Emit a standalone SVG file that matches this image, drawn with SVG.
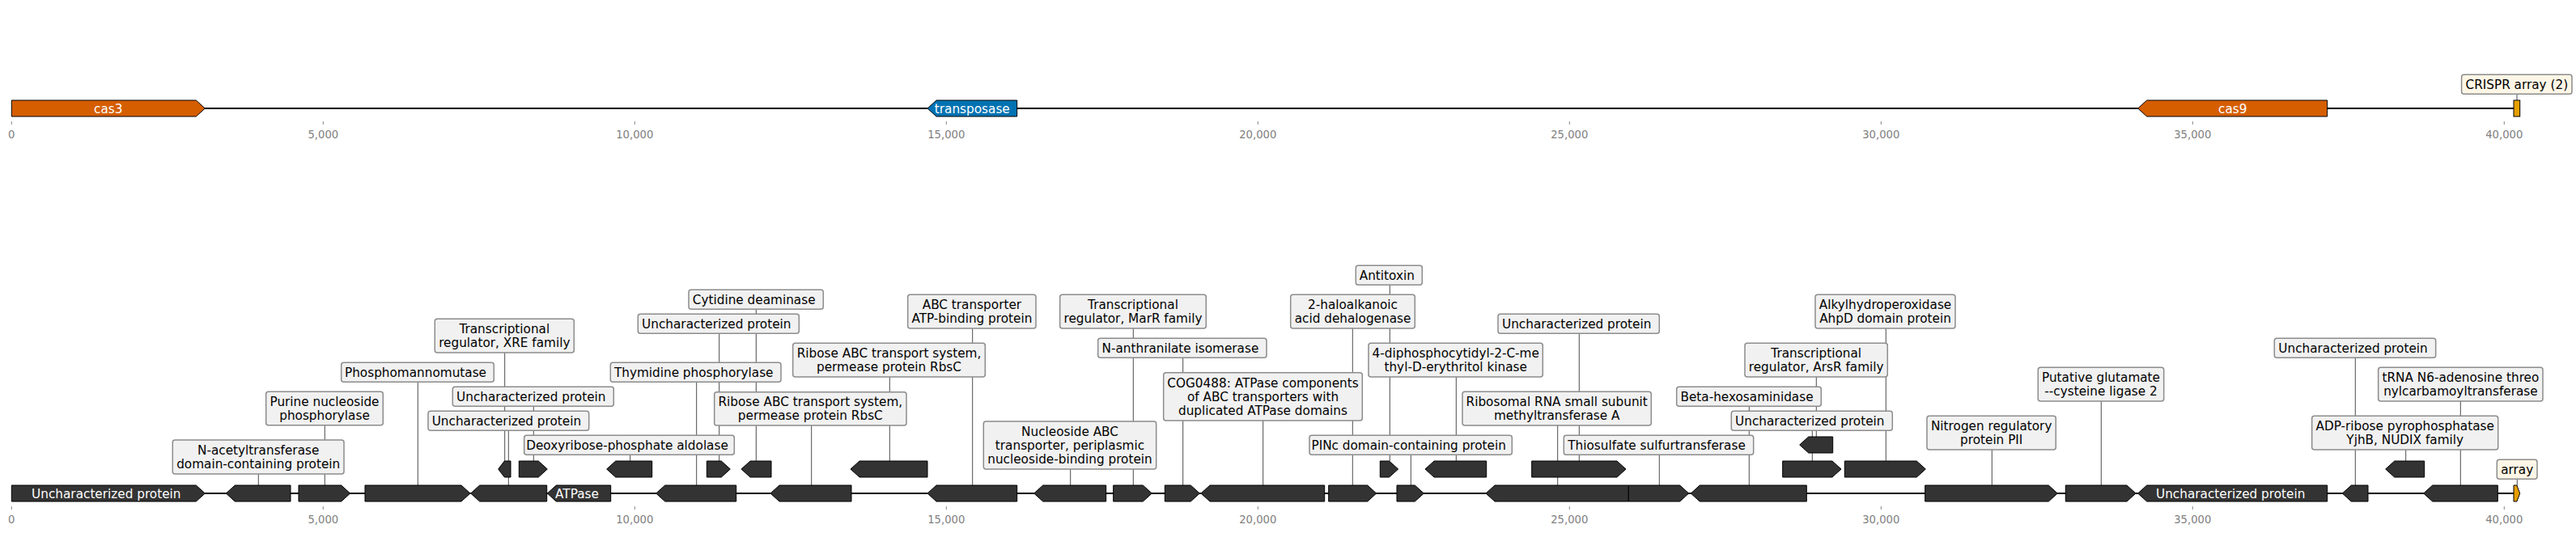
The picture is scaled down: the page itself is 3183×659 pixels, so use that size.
<svg xmlns="http://www.w3.org/2000/svg" width="3183" height="659" viewBox="0 0 3183 659">
<style>
.bg{fill:#fff}
.bb{stroke:#000;stroke-width:2;fill:none}
.f{fill:#333;stroke:#000;stroke-width:1}
.ld{stroke:#4d4d4d;stroke-width:1;fill:none}
.box{fill:#f1f1f1;stroke:#8c8c8c;stroke-width:1.5}
.cbox{fill:#fdf6e6;stroke:#8c8c8c;stroke-width:1.5}
text{font-family:"DejaVu Sans","Liberation Sans",sans-serif;font-size:15.28px;fill:#000;text-anchor:middle}
text.w{fill:#fff}
.tk{stroke:#888;stroke-width:1}
text.tl{font-size:13.2px;fill:#808080}
</style>
<rect class="bg" x="0" y="0" width="3183" height="659"/>

<!-- axes -->
<g id="axis-top">
<line class="bb" x1="14.3" y1="134" x2="3113.7" y2="134"/>
<g class="tk">
<line x1="14.3" y1="150" x2="14.3" y2="154"/><line x1="399.3" y1="150" x2="399.3" y2="154"/><line x1="784.3" y1="150" x2="784.3" y2="154"/><line x1="1169.3" y1="150" x2="1169.3" y2="154"/><line x1="1554.3" y1="150" x2="1554.3" y2="154"/><line x1="1939.3" y1="150" x2="1939.3" y2="154"/><line x1="2324.3" y1="150" x2="2324.3" y2="154"/><line x1="2709.3" y1="150" x2="2709.3" y2="154"/><line x1="3094.3" y1="150" x2="3094.3" y2="154"/>
</g>
<text class="tl" x="14.3" y="170.5">0</text><text class="tl" x="399.3" y="170.5">5,000</text><text class="tl" x="784.3" y="170.5">10,000</text><text class="tl" x="1169.3" y="170.5">15,000</text><text class="tl" x="1554.3" y="170.5">20,000</text><text class="tl" x="1939.3" y="170.5">25,000</text><text class="tl" x="2324.3" y="170.5">30,000</text><text class="tl" x="2709.3" y="170.5">35,000</text><text class="tl" x="3094.3" y="170.5">40,000</text>
</g>
<g id="axis-bottom">
<line class="bb" x1="14.3" y1="610" x2="3113.7" y2="610"/>
<g class="tk">
<line x1="14.3" y1="626" x2="14.3" y2="630"/><line x1="399.3" y1="626" x2="399.3" y2="630"/><line x1="784.3" y1="626" x2="784.3" y2="630"/><line x1="1169.3" y1="626" x2="1169.3" y2="630"/><line x1="1554.3" y1="626" x2="1554.3" y2="630"/><line x1="1939.3" y1="626" x2="1939.3" y2="630"/><line x1="2324.3" y1="626" x2="2324.3" y2="630"/><line x1="2709.3" y1="626" x2="2709.3" y2="630"/><line x1="3094.3" y1="626" x2="3094.3" y2="630"/>
</g>
<text class="tl" x="14.3" y="647.3">0</text><text class="tl" x="399.3" y="647.3">5,000</text><text class="tl" x="784.3" y="647.3">10,000</text><text class="tl" x="1169.3" y="647.3">15,000</text><text class="tl" x="1554.3" y="647.3">20,000</text><text class="tl" x="1939.3" y="647.3">25,000</text><text class="tl" x="2324.3" y="647.3">30,000</text><text class="tl" x="2709.3" y="647.3">35,000</text><text class="tl" x="3094.3" y="647.3">40,000</text>
</g>

<!-- connectors (leader lines) -->
<g id="connectors" class="ld">
<line x1="3110" y1="116.3" x2="3110" y2="124"/>
<line x1="319.3" y1="586" x2="319.3" y2="600"/>
<line x1="401.3" y1="525.7" x2="401.3" y2="600"/>
<line x1="516.3" y1="472.3" x2="516.3" y2="600"/>
<line x1="628.3" y1="532.3" x2="628.3" y2="600"/>
<line x1="860.7" y1="472.3" x2="860.7" y2="600"/>
<line x1="1002.7" y1="526" x2="1002.7" y2="600"/>
<line x1="1201.7" y1="406" x2="1201.7" y2="600"/>
<line x1="1322.7" y1="580" x2="1322.7" y2="600"/>
<line x1="1400.3" y1="406" x2="1400.3" y2="600"/>
<line x1="1461.7" y1="442.3" x2="1461.7" y2="600"/>
<line x1="1560.7" y1="520" x2="1560.7" y2="600"/>
<line x1="1671.3" y1="406" x2="1671.3" y2="600"/>
<line x1="1743.3" y1="562.3" x2="1743.3" y2="600"/>
<line x1="1924.7" y1="526" x2="1924.7" y2="600"/>
<line x1="2050.3" y1="562.3" x2="2050.3" y2="600"/>
<line x1="2161.3" y1="502.3" x2="2161.3" y2="600"/>
<line x1="2461.3" y1="556" x2="2461.3" y2="600"/>
<line x1="2596.3" y1="496" x2="2596.3" y2="600"/>
<line x1="2910.3" y1="442.3" x2="2910.3" y2="600"/>
<line x1="3040.3" y1="496" x2="3040.3" y2="600"/>
<line x1="3110.3" y1="592.3" x2="3110.3" y2="600"/>
<line x1="623.7" y1="436" x2="623.7" y2="570"/>
<line x1="659.3" y1="502.3" x2="659.3" y2="570"/>
<line x1="778.7" y1="562.3" x2="778.7" y2="570"/>
<line x1="888.7" y1="412.3" x2="888.7" y2="570"/>
<line x1="934.3" y1="382.3" x2="934.3" y2="570"/>
<line x1="1099.3" y1="466" x2="1099.3" y2="570"/>
<line x1="1717.3" y1="352.3" x2="1717.3" y2="570"/>
<line x1="1799.3" y1="466" x2="1799.3" y2="570"/>
<line x1="1951.3" y1="412.3" x2="1951.3" y2="570"/>
<line x1="2239.3" y1="532.3" x2="2239.3" y2="570"/>
<line x1="2330.3" y1="406" x2="2330.3" y2="570"/>
<line x1="2972.7" y1="556" x2="2972.7" y2="570"/>
<line x1="2244.3" y1="466" x2="2244.3" y2="540"/>
</g>

<!-- top track nodes -->
<g id="cas3"><polygon points="14.3,124 242.3,124 253.3,134 242.3,144 14.3,144" fill="#d55e00" stroke="#000" stroke-width="1"/><text class="w" x="133.8" y="139.5">cas3</text></g>
<g id="transposase"><polygon points="1256.7,124 1157,124 1146,134 1157,144 1256.7,144" fill="#0072b2" stroke="#000" stroke-width="1"/><text class="w" x="1201.3" y="139.5">transposase</text></g>
<g id="cas9"><polygon points="2875.7,124 2652.7,124 2641.7,134 2652.7,144 2875.7,144" fill="#d55e00" stroke="#000" stroke-width="1"/><text class="w" x="2758.7" y="139.5">cas9</text></g>
<g id="crispr-top"><rect x="3106" y="124" width="7.7" height="20" fill="#e69f00" stroke="#000" stroke-width="1"/><rect class="cbox" x="3041.6" y="92.3" width="136.4" height="24" rx="3"/><text x="3109.8" y="109.6">CRISPR array (2)</text></g>

<!-- bottom track, level 0 -->
<g id="g1"><polygon class="f" points="14.3,600 242.3,600 253.3,610 242.3,620 14.3,620"/><text class="w" x="131.3" y="615.5">Uncharacterized protein</text></g>
<g id="g2"><polygon class="f" points="359,600 290.3,600 279.3,610 290.3,620 359,620"/><rect class="box" x="213.3" y="544" width="211.7" height="42" rx="3"/><text x="319.2" y="562">N-acetyltransferase</text><text x="319.2" y="579">domain-containing protein</text></g>
<g id="g3"><polygon class="f" points="369,600 421.7,600 432.7,610 421.7,620 369,620"/><rect class="box" x="328.7" y="484.3" width="144.6" height="41.4" rx="3"/><text x="401" y="502">Purine nucleoside</text><text x="401" y="519">phosphorylase</text></g>
<g id="g4"><polygon class="f" points="451,600 570,600 581,610 570,620 451,620"/><rect class="box" x="421.7" y="448.3" width="188.6" height="24" rx="3"/><text x="513.5" y="465.6">Phosphomannomutase</text></g>
<g id="g5"><polygon class="f" points="675.7,600 592.7,600 581.7,610 592.7,620 675.7,620"/><rect class="box" x="529" y="508.3" width="198.7" height="24" rx="3"/><text x="625.9" y="525.6">Uncharacterized protein</text></g>
<g id="g6"><polygon class="f" points="754.7,600 687.3,600 676.3,610 687.3,620 754.7,620"/><text class="w" x="713" y="615.5">ATPase</text></g>
<g id="g7"><polygon class="f" points="909.7,600 821.7,600 810.7,610 821.7,620 909.7,620"/><rect class="box" x="754.3" y="448.3" width="210.7" height="24" rx="3"/><text x="857.2" y="465.6">Thymidine phosphorylase</text></g>
<g id="g8"><polygon class="f" points="1052,600 963,600 952,610 963,620 1052,620"/><rect class="box" x="882.7" y="484.7" width="237.3" height="41.3" rx="3"/><text x="1001.3" y="502.3">Ribose ABC transport system,</text><text x="1001.3" y="519.3">permease protein RbsC</text></g>
<g id="g9"><polygon class="f" points="1256.7,600 1157,600 1146,610 1157,620 1256.7,620"/><rect class="box" x="1121.7" y="364.3" width="158.3" height="41.7" rx="3"/><text x="1200.9" y="382.2">ABC transporter</text><text x="1200.9" y="399.2">ATP-binding protein</text></g>
<g id="g10"><polygon class="f" points="1366.7,600 1288.7,600 1277.7,610 1288.7,620 1366.7,620"/><rect class="box" x="1215.3" y="521" width="213.4" height="59" rx="3"/><text x="1322" y="539">Nucleoside ABC</text><text x="1322" y="556">transporter, periplasmic</text><text x="1322" y="573">nucleoside-binding protein</text></g>
<g id="g11"><polygon class="f" points="1375.7,600 1412.3,600 1423.3,610 1412.3,620 1375.7,620"/><rect class="box" x="1309.7" y="364.3" width="180.6" height="41.7" rx="3"/><text x="1400" y="382.2">Transcriptional</text><text x="1400" y="399.2">regulator, MarR family</text></g>
<g id="g12"><polygon class="f" points="1439.3,600 1471.3,600 1482.3,610 1471.3,620 1439.3,620"/><rect class="box" x="1356.7" y="418.3" width="208.3" height="24" rx="3"/><text x="1458.4" y="435.6">N-anthranilate isomerase</text></g>
<g id="g13"><polygon class="f" points="1636.7,600 1495,600 1484,610 1495,620 1636.7,620"/><rect class="box" x="1437.7" y="460.7" width="245.6" height="59.3" rx="3"/><text x="1560.5" y="478.9">COG0488: ATPase components</text><text x="1560.5" y="495.9">of ABC transporters with</text><text x="1560.5" y="512.9">duplicated ATPase domains</text></g>
<g id="g14"><polygon class="f" points="1641.7,600 1689.7,600 1700.7,610 1689.7,620 1641.7,620"/><rect class="box" x="1594.7" y="364.3" width="153.6" height="41.7" rx="3"/><text x="1671.5" y="382.2">2-haloalkanoic</text><text x="1671.5" y="399.2">acid dehalogenase</text></g>
<g id="g15"><polygon class="f" points="1726,600 1748.3,600 1759.3,610 1748.3,620 1726,620"/><rect class="box" x="1618" y="538.3" width="250.3" height="24" rx="3"/><text x="1740.7" y="555.6">PINc domain-containing protein</text></g>
<g id="g16"><polygon class="f" points="2012.3,600 1847,600 1836,610 1847,620 2012.3,620"/><rect class="box" x="1807" y="484.3" width="233.3" height="41.7" rx="3"/><text x="1923.7" y="502.2">Ribosomal RNA small subunit</text><text x="1923.7" y="519.2">methyltransferase A</text></g>
<g id="g17"><polygon class="f" points="2012.3,600 2075.7,600 2086.7,610 2075.7,620 2012.3,620"/><rect class="box" x="1932.3" y="538.3" width="234.4" height="24" rx="3"/><text x="2047" y="555.6">Thiosulfate sulfurtransferase</text></g>
<g id="g18"><polygon class="f" points="2232.3,600 2100.3,600 2089.3,610 2100.3,620 2232.3,620"/><rect class="box" x="2071.7" y="478.3" width="178.6" height="24" rx="3"/><text x="2158.5" y="495.6">Beta-hexosaminidase</text></g>
<g id="g19"><polygon class="f" points="2378.7,600 2531.3,600 2542.3,610 2531.3,620 2378.7,620"/><rect class="box" x="2381" y="514.3" width="159.3" height="41.7" rx="3"/><text x="2460.7" y="532.2">Nitrogen regulatory</text><text x="2460.7" y="549.2">protein PII</text></g>
<g id="g20"><polygon class="f" points="2552.3,600 2628,600 2639,610 2628,620 2552.3,620"/><rect class="box" x="2518.3" y="454.3" width="155.4" height="41.7" rx="3"/><text x="2596" y="472.2">Putative glutamate</text><text x="2596" y="489.2">--cysteine ligase 2</text></g>
<g id="g21"><polygon class="f" points="2875.7,600 2652.7,600 2641.7,610 2652.7,620 2875.7,620"/><text class="w" x="2756.2" y="615.5">Uncharacterized protein</text></g>
<g id="g22"><polygon class="f" points="2926,600 2905.3,600 2894.3,610 2905.3,620 2926,620"/><rect class="box" x="2810.3" y="418.3" width="199.4" height="24" rx="3"/><text x="2907.5" y="435.6">Uncharacterized protein</text></g>
<g id="g23"><polygon class="f" points="3086.3,600 3005.7,600 2994.7,610 3005.7,620 3086.3,620"/><rect class="box" x="2938.7" y="454.3" width="203.3" height="41.7" rx="3"/><text x="3040.4" y="472.2">tRNA N6-adenosine threo</text><text x="3040.4" y="489.2">nylcarbamoyltransferase</text></g>
<g id="g24"><polygon points="3106,600 3109.9,600 3113.7,610 3109.9,620 3106,620" fill="#e69f00" stroke="#000" stroke-width="1"/><rect class="cbox" x="3085.3" y="568.3" width="49.7" height="24" rx="3"/><text x="3110.2" y="585.6">array</text></g>

<!-- level 1 -->
<g id="ga"><polygon class="f" points="631,570 623.35,570 615.7,580 623.35,590 631,590"/><rect class="box" x="537.3" y="394.3" width="172" height="41.7" rx="3"/><text x="623.3" y="412.2">Transcriptional</text><text x="623.3" y="429.2">regulator, XRE family</text></g>
<g id="gb"><polygon class="f" points="641.3,570 665.3,570 676.3,580 665.3,590 641.3,590"/><rect class="box" x="559.3" y="478.3" width="199" height="24" rx="3"/><text x="656.3" y="495.6">Uncharacterized protein</text></g>
<g id="gc"><polygon class="f" points="805.7,570 760.7,570 749.7,580 760.7,590 805.7,590"/><rect class="box" x="647.7" y="538.3" width="259.6" height="24" rx="3"/><text x="775" y="555.6">Deoxyribose-phosphate aldolase</text></g>
<g id="gd"><polygon class="f" points="873.3,570 891.3,570 902.3,580 891.3,590 873.3,590"/><rect class="box" x="788.3" y="388.3" width="199" height="24" rx="3"/><text x="885.3" y="405.6">Uncharacterized protein</text></g>
<g id="ge"><polygon class="f" points="953,570 927,570 916,580 927,590 953,590"/><rect class="box" x="851" y="358.3" width="166.3" height="24" rx="3"/><text x="931.7" y="375.6">Cytidine deaminase</text></g>
<g id="gf"><polygon class="f" points="1146,570 1062,570 1051,580 1062,590 1146,590"/><rect class="box" x="979.7" y="424.3" width="237.6" height="41.7" rx="3"/><text x="1098.5" y="442.2">Ribose ABC transport system,</text><text x="1098.5" y="459.2">permease protein RbsC</text></g>
<g id="gg"><polygon class="f" points="1705.3,570 1716.5,570 1727.7,580 1716.5,590 1705.3,590"/><rect class="box" x="1675.3" y="328.3" width="82" height="24" rx="3"/><text x="1713.8" y="345.6">Antitoxin</text></g>
<g id="gh"><polygon class="f" points="1836.7,570 1772,570 1761,580 1772,590 1836.7,590"/><rect class="box" x="1691" y="424.3" width="215.3" height="41.7" rx="3"/><text x="1798.7" y="442.2">4-diphosphocytidyl-2-C-me</text><text x="1798.7" y="459.2">thyl-D-erythritol kinase</text></g>
<g id="gi"><polygon class="f" points="1892.7,570 1998,570 2009,580 1998,590 1892.7,590"/><rect class="box" x="1851" y="388.3" width="199.3" height="24" rx="3"/><text x="1948.2" y="405.6">Uncharacterized protein</text></g>
<g id="gj"><polygon class="f" points="2202.7,570 2264,570 2275,580 2264,590 2202.7,590"/><rect class="box" x="2139.3" y="508.3" width="199" height="24" rx="3"/><text x="2236.3" y="525.6">Uncharacterized protein</text></g>
<g id="gk"><polygon class="f" points="2279.3,570 2368.3,570 2379.3,580 2368.3,590 2279.3,590"/><rect class="box" x="2243" y="364.3" width="173" height="41.7" rx="3"/><text x="2329.5" y="382.2">Alkylhydroperoxidase</text><text x="2329.5" y="399.2">AhpD domain protein</text></g>
<g id="gl"><polygon class="f" points="2995.7,570 2958.7,570 2947.7,580 2958.7,590 2995.7,590"/><rect class="box" x="2856.7" y="514.3" width="230" height="41.7" rx="3"/><text x="2971.7" y="532.2">ADP-ribose pyrophosphatase</text><text x="2971.7" y="549.2">YjhB, NUDIX family</text></g>

<!-- level 2 -->
<g id="gm"><polygon class="f" points="2264.7,540 2234.7,540 2223.7,550 2234.7,560 2264.7,560"/><rect class="box" x="2156" y="424.3" width="176.3" height="41.7" rx="3"/><text x="2244.2" y="442.2">Transcriptional</text><text x="2244.2" y="459.2">regulator, ArsR family</text></g>
</svg>
